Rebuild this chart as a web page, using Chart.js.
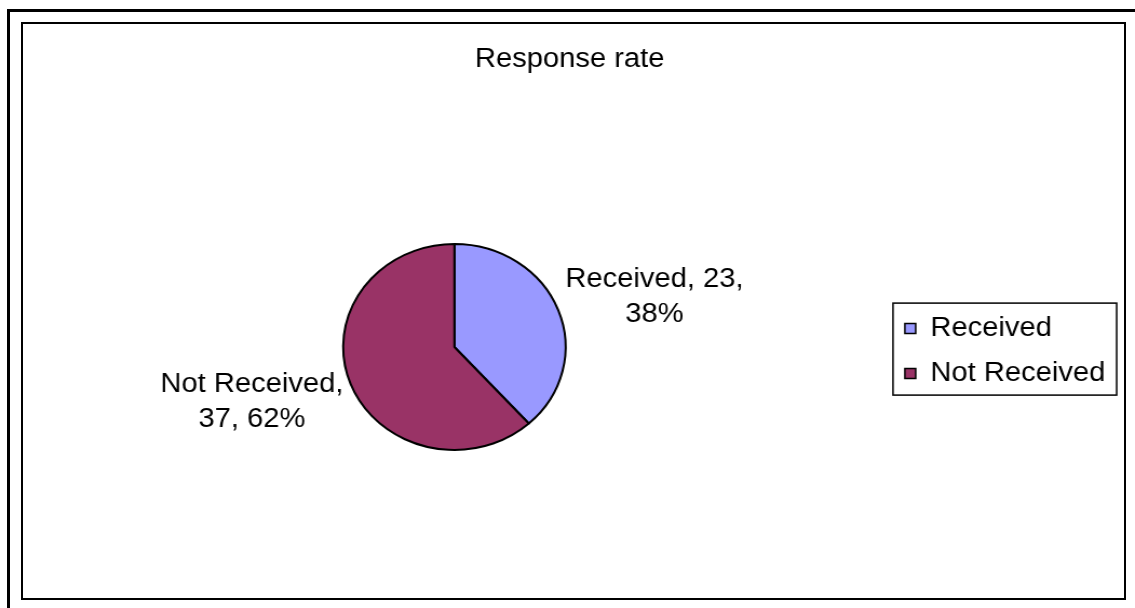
<!DOCTYPE html>
<html>
<head>
<meta charset="utf-8">
<title>Response rate</title>
<script src="https://cdn.jsdelivr.net/npm/chart.js@4/dist/chart.umd.min.js"></script>
<style>
  html, body { margin: 0; padding: 0; background: #fff; overflow: hidden; width: 1135px; height: 608px; }
  #stage { position: relative; width: 1135px; height: 608px; overflow: hidden; }
  #pie { position: absolute; left: 0; top: 0; }
  .frame-outer { position: absolute; left: 7px; top: 9px; width: 1300px; height: 800px;
                 border-left: 3px solid #000; border-top: 3px solid #000; pointer-events: none; }
  .frame-inner { position: absolute; left: 21px; top: 22px; width: 1105px; height: 578px;
                 box-sizing: border-box; border: 2px solid #000; pointer-events: none; }
</style>
</head>
<body>
<div id="stage">
  <!-- drawn at 1051px wide and shown 8% wider -->
  <canvas id="pie" width="1051" height="608" style="width:1135px;height:608px"></canvas>
  <div class="frame-outer"></div>
  <div class="frame-inner"></div>
</div>
<script>
// Chart content
const chartTitle = 'Response rate';
const categories = ['Received', 'Not Received'];
const counts = [23, 37];
const sliceColors = ['#9999FF', '#993366'];

const FONT_FAMILY = '"Liberation Sans", Arial, Helvetica, sans-serif';
const FONT_SIZE = 27;

// wrap a label to a maximum line width
function wrapText(ctx, text, maxWidth) {
  const words = text.split(' ');
  const lines = [];
  let line = '';
  for (const w of words) {
    const test = line ? line + ' ' + w : w;
    if (line && ctx.measureText(test).width > maxWidth) {
      lines.push(line);
      line = w;
    } else {
      line = test;
    }
  }
  if (line) lines.push(line);
  return lines;
}

// "Category, value, percent" labels next to each slice
const sliceLabels = {
  id: 'sliceLabels',
  afterDatasetsDraw(chart) {
    const ctx = chart.ctx;
    const meta = chart.getDatasetMeta(0);
    const total = counts.reduce((a, b) => a + b, 0);
    ctx.save();
    ctx.font = `${FONT_SIZE}px ${FONT_FAMILY}`;
    ctx.fillStyle = '#000';
    ctx.textAlign = 'center';
    ctx.textBaseline = 'alphabetic';
    meta.data.forEach((arc, i) => {
      const p = arc.getProps(['x', 'y', 'startAngle', 'endAngle', 'outerRadius'], true);
      const mid = (p.startAngle + p.endAngle) / 2;
      const cos = Math.cos(mid), sin = Math.sin(mid);
      const pct = Math.round(counts[i] / total * 100);
      const lines = wrapText(ctx, `${categories[i]}, ${counts[i]}, ${pct}%`, 180);
      const w = Math.max(...lines.map(l => ctx.measureText(l).width));
      const edgeX = p.x + cos * (p.outerRadius + 7);
      const cy = p.y + sin * (p.outerRadius + 43);
      const cx = cos >= 0 ? edgeX + w / 2 : edgeX - w / 2;
      const lineGap = 35;
      lines.forEach((l, k) => {
        const baseY = cy + (k - (lines.length - 1) / 2) * lineGap + FONT_SIZE * 0.36;
        ctx.fillText(l, cx, baseY);
      });
    });
    ctx.restore();
  }
};

// thin frame round the legend
const legendFrame = {
  id: 'legendFrame',
  afterDraw(chart) {
    const boxes = chart.legend && chart.legend.legendHitBoxes;
    if (!boxes || !boxes.length) return;
    const ctx = chart.ctx;
    const left = Math.min(...boxes.map(b => b.left)) - 11;
    const right = Math.max(...boxes.map(b => b.left + b.width)) + 10.5;
    const top = boxes[0].top - 12;
    const last = boxes[boxes.length - 1];
    const bottom = last.top + last.height + 8;
    ctx.save();
    ctx.strokeStyle = '#000';
    ctx.lineWidth = 1.5;
    ctx.strokeRect(left, top, right - left, bottom - top);
    ctx.restore();
  }
};

Chart.defaults.font.family = FONT_FAMILY;
Chart.defaults.color = '#000';

new Chart(document.getElementById('pie'), {
  type: 'pie',
  data: {
    labels: categories,
    datasets: [{
      data: counts,
      backgroundColor: sliceColors,
      borderColor: '#000',
      borderWidth: 2
    }]
  },
  options: {
    responsive: false,
    animation: false,
    events: [],
    radius: 103,
    layout: { padding: { left: 21.6, right: 17.5, top: 0, bottom: 0 } },
    plugins: {
      title: {
        display: true,
        text: chartTitle,
        color: '#000',
        font: { size: FONT_SIZE, weight: 'normal' },
        padding: { top: 42.9, bottom: 10.7 }
      },
      legend: {
        position: 'right',
        fullSize: false,
        title: { display: true, text: '', font: { size: 1, lineHeight: 1 }, padding: { top: 7.2, bottom: 0 } },
        labels: {
          color: '#000',
          boxWidth: 10,
          boxHeight: 10,
          padding: 18,
          font: { size: FONT_SIZE },
          generateLabels(chart) {
            const items = Chart.overrides.pie.plugins.legend.labels.generateLabels(chart);
            items.forEach(it => { it.lineWidth = 1.5; it.strokeStyle = '#000'; });
            return items;
          }
        }
      },
      tooltip: { enabled: false }
    }
  },
  plugins: [sliceLabels, legendFrame]
});
</script>
</body>
</html>
